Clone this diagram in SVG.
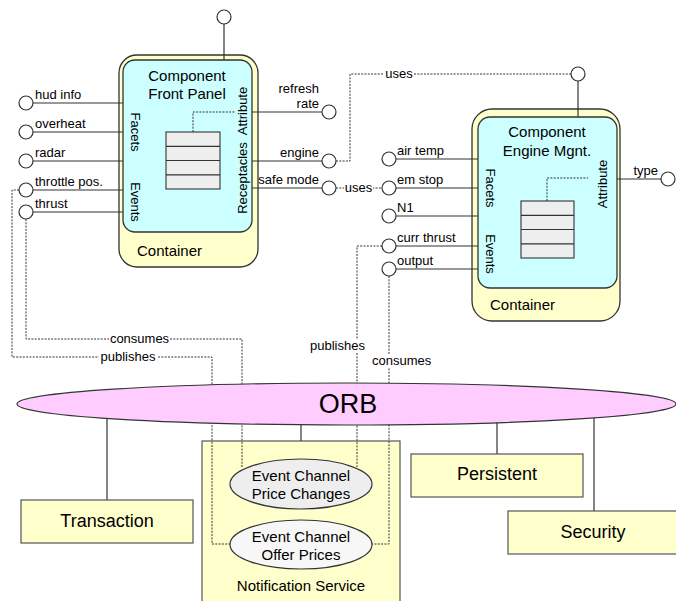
<svg xmlns="http://www.w3.org/2000/svg" width="676" height="601" viewBox="0 0 676 601">
<style>
text{font-family:"Liberation Sans",Arial,sans-serif;fill:#000}
.s{font-size:13px}
.m{font-size:15px}
.l{font-size:18px}
.mid{text-anchor:middle}
.end{text-anchor:end}
.ln{stroke:#333;stroke-width:1.2;fill:none}
.dot{stroke:#333;stroke-width:1;fill:none;stroke-dasharray:2 1.3}
.port{fill:#fff;stroke:#333;stroke-width:1.2}
.cont{fill:#ffffcc;stroke:#333;stroke-width:1.3}
.comp{fill:#ccffff;stroke:#333;stroke-width:1.3}
.box{fill:#ffffcc;stroke:#555;stroke-width:1.2}
.tbl{fill:#eeeeee;stroke:#333;stroke-width:1.1}
.bg{fill:#fff}
</style>

<g id="notification-service">
<rect class="box" x="202" y="441" width="198" height="170"/>
<text class="m mid" x="301" y="591">Notification Service</text>
</g>

<g id="connectors">
<!-- ORB to services -->
<line class="ln" x1="107" y1="404" x2="107" y2="500"/>
<line class="ln" x1="301" y1="404" x2="301" y2="441"/>
<line class="ln" x1="497" y1="404" x2="497" y2="454"/>
<line class="ln" x1="594" y1="404" x2="594" y2="511"/>
<!-- engine receptacle uses -->
<polyline class="dot" points="336,161 350,161 350,74 571,74"/>
<rect class="bg" x="384" y="67" width="30" height="13"/>
<text class="s mid" x="399" y="78">uses</text>
<!-- safe mode uses em stop -->
<line class="dot" x1="336" y1="188" x2="382" y2="188"/>
<rect class="bg" x="344" y="181" width="29" height="13"/>
<text class="s mid" x="358.5" y="192">uses</text>
<!-- front panel events -->
<polyline class="dot" points="19,190 12,190 12,357 212,357 212,544 230,544"/>
<rect class="bg" x="99" y="350" width="58" height="13"/>
<text class="s mid" x="128" y="361">publishes</text>
<polyline class="dot" points="26,219 26,339 242,339 242,468"/>
<rect class="bg" x="109" y="332" width="61" height="13"/>
<text class="s mid" x="139.5" y="343">consumes</text>
<!-- engine events -->
<polyline class="dot" points="382,246 357,246 357,467"/>
<rect class="bg" x="309" y="339" width="58" height="13"/>
<text class="s" x="310" y="350">publishes</text>
<polyline class="dot" points="389,276 389,544 372,544"/>
<rect class="bg" x="371" y="354" width="61" height="14"/>
<text class="s" x="372" y="365">consumes</text>
</g>

<g id="orb">
<ellipse cx="346.5" cy="404" rx="329.5" ry="21" fill="#ffccff" stroke="#333" stroke-width="1.2"/>
<text x="348" y="413" font-size="27" class="mid">ORB</text>
</g>

<g id="channel-price-changes">
<ellipse cx="301" cy="484" rx="71" ry="25" fill="#eeeeee" stroke="#333" stroke-width="1.2"/>
<text class="m mid" x="301" y="481">Event Channel</text>
<text class="m mid" x="301" y="499">Price Changes</text>
</g>

<g id="channel-offer-prices">
<ellipse cx="301" cy="544.5" rx="71" ry="24.5" fill="#f7f7f7" stroke="#333" stroke-width="1.2"/>
<text class="m mid" x="301" y="542">Event Channel</text>
<text class="m mid" x="301" y="560">Offer Prices</text>
</g>

<g id="transaction">
<rect class="box" x="21" y="500" width="172" height="43"/>
<text class="l mid" x="107" y="527">Transaction</text>
</g>

<g id="persistent">
<rect class="box" x="411" y="454" width="172" height="43"/>
<text class="l mid" x="497" y="480">Persistent</text>
</g>

<g id="security">
<rect class="box" x="508" y="511" width="172" height="43"/>
<text class="l mid" x="593" y="538">Security</text>
</g>

<g id="front-panel">
<rect class="cont" x="119" y="55" width="139" height="212" rx="18"/>
<text class="m" x="137" y="256">Container</text>
<line class="ln" x1="224" y1="24" x2="224" y2="60"/>
<circle class="port" cx="224" cy="17" r="7"/>
<rect class="comp" x="123" y="60" width="129" height="172" rx="12"/>
<text class="m mid" x="187" y="80.5">Component</text>
<text class="m mid" x="187" y="99">Front Panel</text>
<text class="s mid" transform="translate(131,132) rotate(90)">Facets</text>
<text class="s mid" transform="translate(131,202) rotate(90)">Events</text>
<text class="s mid" transform="translate(247,111) rotate(-90)">Attribute</text>
<text class="s mid" transform="translate(247,178) rotate(-90)">Receptacles</text>
<rect class="tbl" x="166" y="132" width="54" height="57"/>
<line class="ln" x1="166" y1="146.3" x2="220" y2="146.3"/>
<line class="ln" x1="166" y1="160.5" x2="220" y2="160.5"/>
<line class="ln" x1="166" y1="174.8" x2="220" y2="174.8"/>
<polyline class="dot" points="193,132 193,112 235,112"/>
<!-- left ports -->
<line class="ln" x1="33" y1="103" x2="123" y2="103"/><circle class="port" cx="26" cy="103" r="7"/>
<text class="s" x="35" y="99">hud info</text>
<line class="ln" x1="33" y1="132" x2="123" y2="132"/><circle class="port" cx="26" cy="132" r="7"/>
<text class="s" x="35" y="128">overheat</text>
<line class="ln" x1="33" y1="161" x2="123" y2="161"/><circle class="port" cx="26" cy="161" r="7"/>
<text class="s" x="35" y="157">radar</text>
<line class="ln" x1="33" y1="190" x2="123" y2="190"/><circle class="port" cx="26" cy="190" r="7"/>
<text class="s" x="35" y="186">throttle pos.</text>
<line class="ln" x1="33" y1="212" x2="123" y2="212"/><circle class="port" cx="26" cy="212" r="7"/>
<text class="s" x="35" y="208">thrust</text>
<!-- right ports -->
<line class="ln" x1="252" y1="112" x2="322" y2="112"/><circle class="port" cx="329" cy="112" r="7"/>
<text class="s end" x="319" y="92.5">refresh</text>
<text class="s end" x="319" y="107.5">rate</text>
<line class="ln" x1="252" y1="161" x2="322" y2="161"/><circle class="port" cx="329" cy="161" r="7"/>
<text class="s end" x="319" y="157">engine</text>
<line class="ln" x1="252" y1="188" x2="322" y2="188"/><circle class="port" cx="329" cy="188" r="7"/>
<text class="s end" x="319" y="184">safe mode</text>
</g>

<g id="engine-mgnt">
<rect class="cont" x="472" y="109" width="148" height="212" rx="20"/>
<text class="m" x="490" y="310">Container</text>
<line class="ln" x1="578" y1="81" x2="578" y2="117"/>
<circle class="port" cx="578" cy="74" r="7"/>
<rect class="comp" x="478" y="117" width="139" height="171" rx="12"/>
<text class="m mid" x="547" y="137">Component</text>
<text class="m mid" x="547" y="155.5">Engine Mgnt.</text>
<text class="s mid" transform="translate(486,188) rotate(90)">Facets</text>
<text class="s mid" transform="translate(486,254) rotate(90)">Events</text>
<text class="s mid" transform="translate(607,184) rotate(-90)">Attribute</text>
<rect class="tbl" x="521" y="201" width="53" height="57"/>
<line class="ln" x1="521" y1="215.3" x2="574" y2="215.3"/>
<line class="ln" x1="521" y1="229.5" x2="574" y2="229.5"/>
<line class="ln" x1="521" y1="243.8" x2="574" y2="243.8"/>
<polyline class="dot" points="547,201 547,178 588,178"/>
<!-- left ports -->
<line class="ln" x1="396" y1="159" x2="478" y2="159"/><circle class="port" cx="389" cy="159" r="7"/>
<text class="s" x="397" y="155">air temp</text>
<line class="ln" x1="396" y1="188" x2="478" y2="188"/><circle class="port" cx="389" cy="188" r="7"/>
<text class="s" x="397" y="184">em stop</text>
<line class="ln" x1="396" y1="216" x2="478" y2="216"/><circle class="port" cx="389" cy="216" r="7"/>
<text class="s" x="397" y="212">N1</text>
<line class="ln" x1="396" y1="246" x2="478" y2="246"/><circle class="port" cx="389" cy="246" r="7"/>
<text class="s" x="397" y="242">curr thrust</text>
<line class="ln" x1="396" y1="269" x2="478" y2="269"/><circle class="port" cx="389" cy="269" r="7"/>
<text class="s" x="397" y="265">output</text>
<!-- right port -->
<line class="ln" x1="617" y1="179" x2="661" y2="179"/><circle class="port" cx="668" cy="179" r="7"/>
<text class="s end" x="658" y="175">type</text>
</g>
</svg>
